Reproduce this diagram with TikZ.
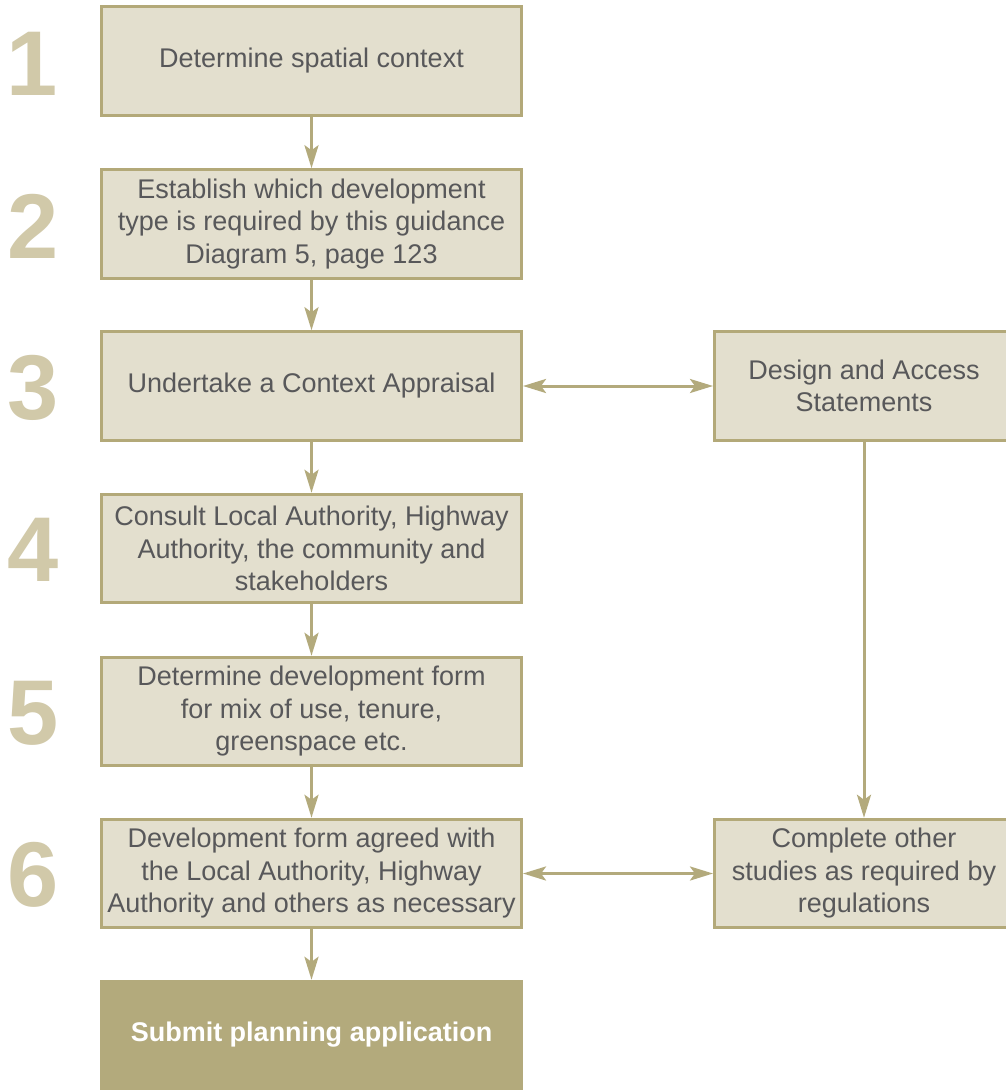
\documentclass[tikz,border=0pt]{standalone}
\usepackage{fontspec}
\setmainfont{Liberation Sans}
\usetikzlibrary{arrows.meta}
\definecolor{boxfill}{HTML}{E3DFCE}
\definecolor{boxline}{HTML}{B3A979}
\definecolor{darkfill}{HTML}{B3AA7C}
\definecolor{numcol}{HTML}{D1C9A9}
\definecolor{txtcol}{HTML}{58585A}
\tikzset{
  stepbox/.style={draw=boxline, fill=boxfill, line width=3pt, minimum width=420pt,
    minimum height=108.5pt, align=center, inner sep=0pt, text=txtcol,
    font=\fontsize{27}{32.5}\selectfont},
  sidebox/.style={stepbox, minimum width=299pt},
  finalbox/.style={fill=darkfill, minimum width=423pt, minimum height=110pt,
    inner sep=0pt, text=white, font=\fontsize{27}{32.5}\selectfont\bfseries},
  numlabel/.style={text=numcol, font=\fontsize{92}{92}\selectfont\bfseries, inner sep=0pt},
  arr/.style={draw=darkfill, line width=3pt,
    -{Stealth[length=23pt,width=14pt,inset=5pt]}},
  darr/.style={draw=darkfill, line width=3pt,
    {Stealth[length=23pt,width=14pt,inset=5pt]}-{Stealth[length=23pt,width=14pt,inset=5pt]}}
}
\begin{document}
\begin{tikzpicture}[x=1pt,y=-1pt]
\useasboundingbox (0,0) rectangle (1005,1090);
\fill[white] (0,0) rectangle (1005,1090);

\node[stepbox] (b1) at (311.5,61) {Determine spatial context};
\node[stepbox] (b2) at (311.5,224) {Establish which development\\type is required by this guidance\\Diagram 5, page 123};
\node[stepbox] (b3) at (311.5,386) {Undertake a Context Appraisal};
\node[stepbox] (b4) at (311.5,548.5) {Consult Local Authority, Highway\\Authority, the community and\\stakeholders};
\node[stepbox] (b5) at (311.5,711.5) {Determine development form\\for mix of use, tenure,\\greenspace etc.};
\node[stepbox] (b6) at (311.5,873.5) {Development form agreed with\\the Local Authority, Highway\\Authority and others as necessary};
\node[finalbox] (b7) at (311.5,1035) {Submit planning application};

\node[sidebox] (d1) at (864,386) {Design and Access\\Statements};
\node[sidebox] (d2) at (864,873.5) {Complete other\\studies as required by\\regulations};

\node[numlabel] (n1) at (32,64) {1};
\node[numlabel] (n2) at (33,226) {2};
\node[numlabel] (n3) at (33,388) {3};
\node[numlabel] (n4) at (33,550) {4};
\node[numlabel] (n5) at (33,713) {5};
\node[numlabel] (n6) at (33,875) {6};

\draw[arr] (b1.south) -- (b2.north);
\draw[arr] (b2.south) -- (b3.north);
\draw[arr] (b3.south) -- (b4.north);
\draw[arr] (b4.south) -- (b5.north);
\draw[arr] (b5.south) -- (b6.north);
\draw[arr] (b6.south) -- (b7.north);
\draw[darr] (b3.east) -- (d1.west);
\draw[darr] (b6.east) -- (d2.west);
\draw[arr] (d1.south) -- (d2.north);
\end{tikzpicture}
\end{document}
